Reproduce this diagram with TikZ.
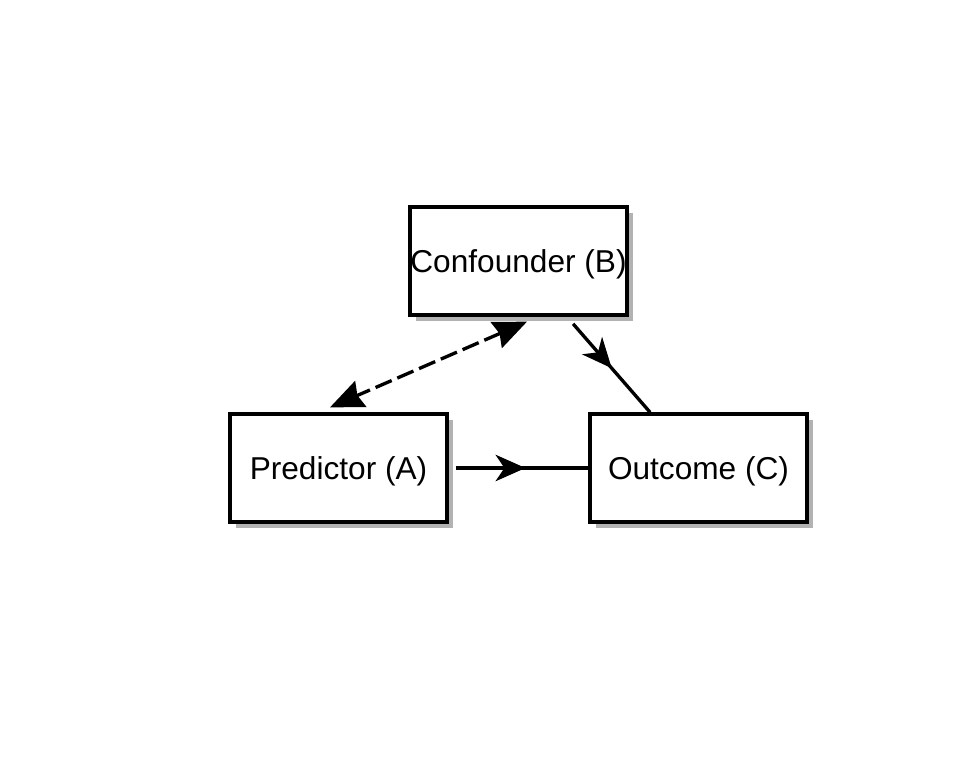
\documentclass[tikz,border=0pt]{standalone}
\usepackage{fontspec}
\setmainfont{Liberation Sans}
\usetikzlibrary{%
  arrows.meta,%
  shadows,% drop shadow of the boxes
  decorations.markings% arrow in the middle
}

\begin{document}
\begin{tikzpicture}
[x=0.02cm, y=-0.02cm, font=\fontsize{18}{22}\selectfont, line width=1.9pt,
var/.style={rectangle, draw, fill=white, inner sep=0pt, text depth=0pt, minimum width=4.34cm, minimum height=2.16cm,
  drop shadow={shadow xshift=0.12cm, shadow yshift=-0.12cm, fill=black!30, opacity=1}},
effect/.style={postaction={decorate}, decoration={markings,
  mark=at position #1 with {\arrow{Stealth[length=17pt,width=15pt,inset=5pt]}}}},
assoc/.style={dash pattern=on 10pt off 3.5pt, {Stealth[length=19pt,width=16pt,inset=2pt]}-{Stealth[length=19pt,width=16pt,inset=2pt]}}]

\useasboundingbox (0,0) rectangle (960,768);

\node[var] (B) at (518.5,261) {Confounder (B)};
\node[var] (A) at (338.5,468) {Predictor (A)};
\node[var] (C) at (698.5,468) {Outcome (C)};

\draw[effect=0.55, shorten <=0.14cm] (A.east) -- (C.west);
\draw[effect=0.54, shorten <=0.19cm] (B) -- (C);
\draw[assoc] ([xshift=0.17cm, yshift=-0.1cm]B.south) -- ([xshift=-0.17cm, yshift=0.1cm]A.north);

\end{tikzpicture}
\end{document}
